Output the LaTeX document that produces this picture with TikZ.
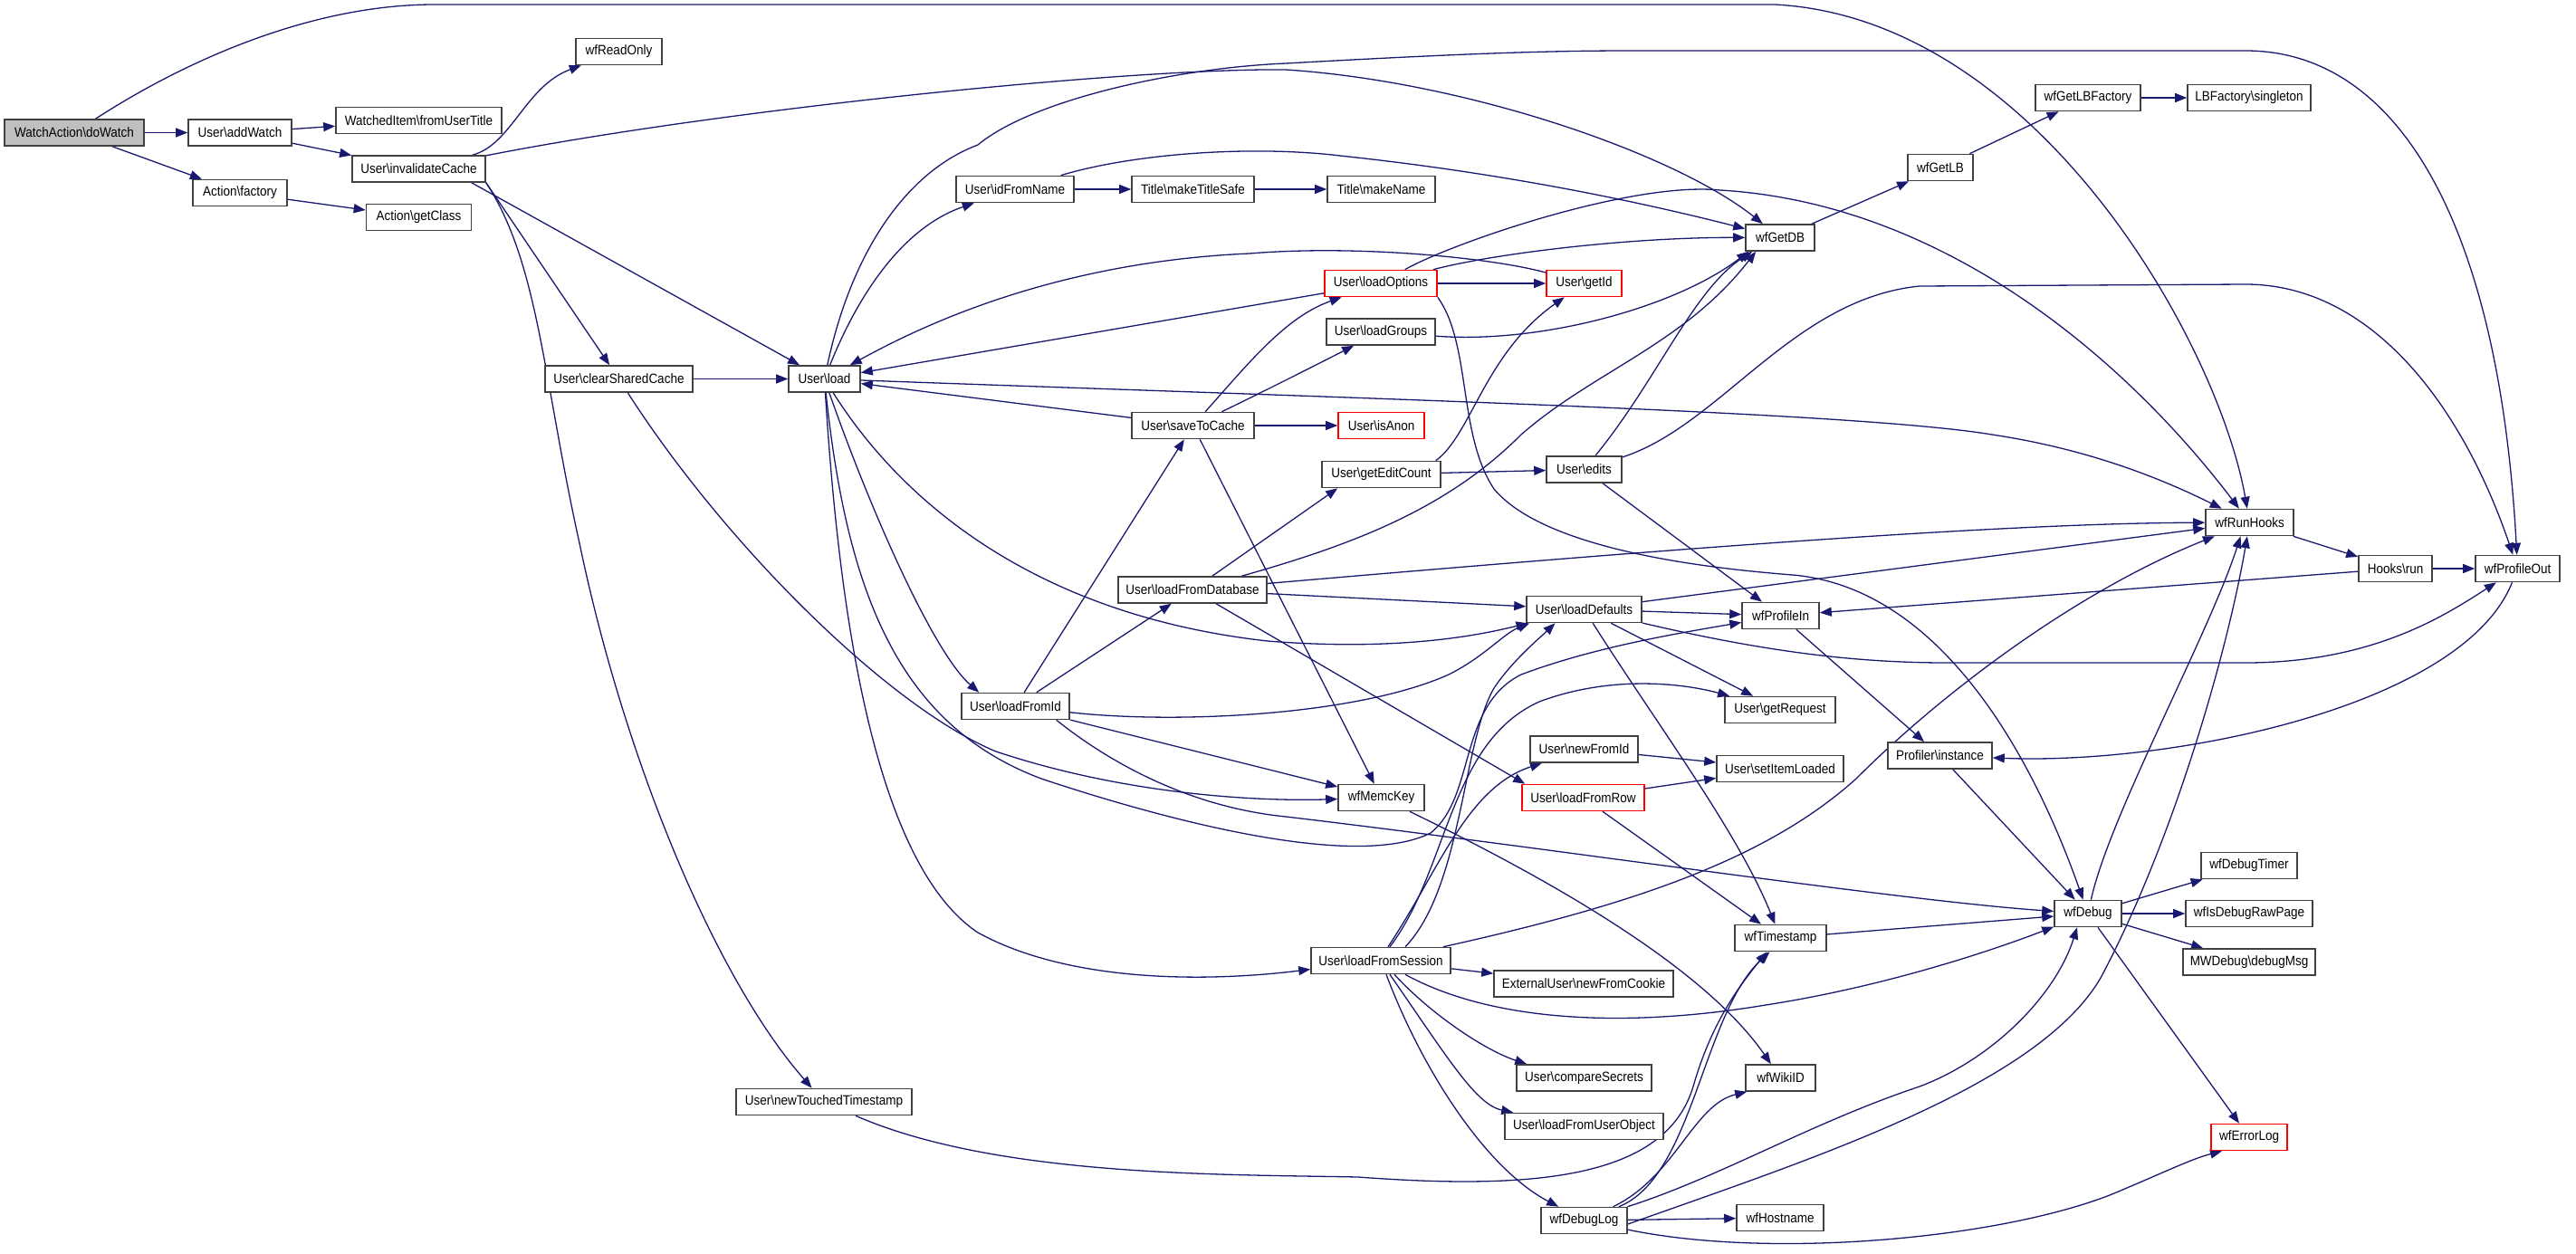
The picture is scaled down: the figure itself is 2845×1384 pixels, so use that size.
\documentclass[tikz,border=0pt]{standalone}
\usepackage{fontspec}
\setmainfont{Liberation Sans}[FakeStretch=0.9]
\usetikzlibrary{arrows.meta,backgrounds}
\definecolor{ecol}{HTML}{191970}
\definecolor{bcol}{HTML}{404040}
\definecolor{rcol}{HTML}{FF0000}
\definecolor{gcol}{HTML}{BFBFBF}
\newcommand{\bsl}{\textbackslash}
\begin{document}
\begin{tikzpicture}[x=1pt,y=-1pt,
  fn/.style={draw=bcol,line width=1.6pt,fill=white,minimum height=29pt,inner sep=0pt,
    font=\fontsize{15pt}{18pt}\selectfont},
  fnr/.style={fn,draw=rcol},
  conn/.style={draw=ecol,line width=1.3pt,-{Triangle[length=13pt,width=10pt]}}]
\useasboundingbox (0,0) rectangle (2845,1384);
\node[fn,minimum width=154pt,fill=gcol] (dw) at (82,146.5) {WatchAction\bsl doWatch};
\node[fn,minimum width=114pt] (aw) at (265,146.5) {User\bsl addWatch};
\node[fn,minimum width=183pt] (wi) at (462.5,133) {WatchedItem\bsl fromUserTitle};
\node[fn,minimum width=147pt] (ic) at (462.5,186.5) {User\bsl invalidateCache};
\node[fn,minimum width=104pt] (af) at (265,213) {Action\bsl factory};
\node[fn,minimum width=116pt] (gc) at (462.5,240) {Action\bsl getClass};
\node[fn,minimum width=95pt] (ro) at (683.5,57) {wfReadOnly};
\node[fn,minimum width=163pt] (csc) at (683.5,418.5) {User\bsl clearSharedCache};
\node[fn,minimum width=79pt] (ld) at (910.5,418.5) {User\bsl load};
\node[fn,minimum width=194pt] (ntt) at (910,1217) {User\bsl newTouchedTimestamp};
\node[fn,minimum width=130pt] (ifn) at (1121,209) {User\bsl idFromName};
\node[fn,minimum width=119pt] (lfi) at (1121.5,780) {User\bsl loadFromId};
\node[fn,minimum width=135pt] (mts) at (1317.5,209) {Title\bsl makeTitleSafe};
\node[fn,minimum width=135pt] (stc) at (1317.5,470) {User\bsl saveToCache};
\node[fn,minimum width=164pt] (lfdb) at (1317,651.5) {User\bsl loadFromDatabase};
\node[fn,minimum width=119pt] (mkn) at (1525.5,209) {Title\bsl makeName};
\node[fnr,minimum width=124pt] (lo) at (1525,313) {User\bsl loadOptions};
\node[fn,minimum width=120pt] (lg) at (1525,366.5) {User\bsl loadGroups};
\node[fnr,minimum width=95pt] (ia) at (1525.5,470) {User\bsl isAnon};
\node[fn,minimum width=131pt] (gec) at (1525.5,524) {User\bsl getEditCount};
\node[fn,minimum width=95pt] (mk) at (1525.5,881) {wfMemcKey};
\node[fn,minimum width=154pt] (lfs) at (1525,1061) {User\bsl loadFromSession};
\node[fnr,minimum width=83pt] (gid) at (1749.5,313) {User\bsl getId};
\node[fn,minimum width=83pt] (ed) at (1749.5,518.5) {User\bsl edits};
\node[fn,minimum width=127pt] (ldf) at (1749.5,673) {User\bsl loadDefaults};
\node[fn,minimum width=119pt] (nfi) at (1749.5,827.5) {User\bsl newFromId};
\node[fnr,minimum width=135pt] (lfr) at (1748.5,881) {User\bsl loadFromRow};
\node[fn,minimum width=198pt] (nfc) at (1749,1086.5) {ExternalUser\bsl newFromCookie};
\node[fn,minimum width=149pt] (cs) at (1749.5,1190.5) {User\bsl compareSecrets};
\node[fn,minimum width=175pt] (lfuo) at (1749.5,1244) {User\bsl loadFromUserObject};
\node[fn,minimum width=95pt] (dl) at (1749.5,1348) {wfDebugLog};
\node[fn,minimum width=76pt] (db) at (1966,262.5) {wfGetDB};
\node[fn,minimum width=85pt] (pin) at (1966.5,680) {wfProfileIn};
\node[fn,minimum width=122pt] (grq) at (1966,784) {User\bsl getRequest};
\node[fn,minimum width=140pt] (sil) at (1966,849) {User\bsl setItemLoaded};
\node[fn,minimum width=101pt] (ts) at (1966.5,1036) {wfTimestamp};
\node[fn,minimum width=77pt] (wid) at (1966.5,1190.5) {wfWikiID};
\node[fn,minimum width=96pt] (hn) at (1966,1345) {wfHostname};
\node[fn,minimum width=72pt] (lb) at (2143,185) {wfGetLB};
\node[fn,minimum width=115pt] (pi) at (2142.5,834.5) {Profiler\bsl instance};
\node[fn,minimum width=74pt] (dbg) at (2306,1009) {wfDebug};
\node[fn,minimum width=116pt] (lbf) at (2306,108) {wfGetLBFactory};
\node[fn,minimum width=136pt] (lbs) at (2484,108) {LBFactory\bsl singleton};
\node[fn,minimum width=97pt] (rh) at (2484.5,577) {wfRunHooks};
\node[fn,minimum width=106pt] (dt) at (2484,956) {wfDebugTimer};
\node[fn,minimum width=140pt] (drp) at (2484,1009) {wfIsDebugRawPage};
\node[fn,minimum width=146pt] (dm) at (2484,1062.5) {MWDebug\bsl debugMsg};
\node[fnr,minimum width=84pt] (el) at (2484,1256) {wfErrorLog};
\node[fn,minimum width=81pt] (hr) at (2645.5,628) {Hooks\bsl run};
\node[fn,minimum width=93pt] (pout) at (2780.5,628) {wfProfileOut};

\begin{pgfonlayer}{background}
% WatchAction\doWatch
\draw[conn] (dw) -- (aw);
\draw[conn] (dw) -- (af);
\draw[conn] (dw) .. controls (200,70) and (340,5) .. (480,5) -- (1960,5) .. controls (2250,20) and (2450,380) .. (rh);
\draw[conn] (aw) -- (wi);
\draw[conn] (aw) -- (ic);
\draw[conn] (af) -- (gc);
% invalidateCache
\draw[conn] (ic) .. controls (565,160) and (580,95) .. (ro);
\draw[conn] (ic) .. controls (800,120) and (1250,75) .. (1420,77) .. controls (1620,90) and (1850,170) .. (db);
\draw[conn] ([xshift=-16pt]ic.south east) -- (ld);
\draw[conn] (ic.south east) -- (csc);
\draw[conn] (ic.south east) .. controls (595,290) and (600,420) .. (640,600) .. controls (690,840) and (790,1080) .. (ntt);
% clearSharedCache
\draw[conn] (csc) -- (ld);
\draw[conn] (csc) .. controls (800,600) and (980,780) .. (1100,830) .. controls (1250,880) and (1400,885) .. (mk);
% load
\draw[conn] (ld) .. controls (950,320) and (1000,250) .. (ifn);
\draw[conn] (ld) .. controls (940,280) and (1000,190) .. (1080,160) .. controls (1140,110) and (1300,75) .. (1420,70) .. controls (1600,60) and (1700,56) .. (1800,56) -- (2480,56) .. controls (2650,56) and (2760,250) .. (pout);
\draw[conn] (ld) .. controls (1000,560) and (1150,680) .. (1400,708) .. controls (1550,720) and (1640,700) .. (ldf);
\draw[conn] (ld) .. controls (960,560) and (1030,720) .. ([xshift=20pt]lfi.north west);
\draw[conn] (ld) .. controls (925,650) and (960,950) .. (1080,1030) .. controls (1180,1085) and (1330,1085) .. (lfs);
\draw[conn] (ld) .. controls (1500,440) and (2050,455) .. (2200,480) .. controls (2300,495) and (2380,525) .. (rh);
\draw[conn] (ld) .. controls (935,650) and (990,800) .. (1150,860) .. controls (1300,910) and (1500,960) .. (1580,920) .. controls (1630,880) and (1610,780) .. (1680,745) .. controls (1760,715) and (1850,700) .. (pin);
% callbacks into load
\draw[conn] (gid) .. controls (1650,285) and (1500,270) .. (1380,280) .. controls (1150,290) and (1000,370) .. (ld);
\draw[conn] (lo) -- (ld);
\draw[conn] (stc) -- (ld);
% idFromName
\draw[conn] (ifn) -- (mts);
\draw[conn] (ifn) .. controls (1250,170) and (1380,160) .. (1480,172) .. controls (1650,190) and (1800,220) .. (db);
\draw[conn] (mts) -- (mkn);
% loadOptions
\draw[conn] (lo) -- (gid);
\draw[conn] (lo) .. controls (1650,280) and (1800,262) .. (db);
\draw[conn] (lo) .. controls (1600,270) and (1800,200) .. (1900,210) .. controls (2150,225) and (2350,400) .. (rh);
\draw[conn] (lo.south east) .. controls (1625,380) and (1610,480) .. (1650,540) .. controls (1700,600) and (1850,625) .. (1980,635) .. controls (2150,650) and (2250,850) .. (dbg);
\draw[conn] (lg) .. controls (1700,380) and (1850,340) .. ([xshift=4pt]db.south west);
% saveToCache
\draw[conn] (stc) .. controls (1380,400) and (1420,350) .. (lo);
\draw[conn] (stc) .. controls (1380,440) and (1440,410) .. (lg);
\draw[conn] (stc) -- (ia);
\draw[conn] (stc) -- (mk);
% getEditCount / edits
\draw[conn] (gec) -- (ed);
\draw[conn] ([xshift=-6pt]gec.north east) .. controls (1625,480) and (1640,390) .. (gid);
\draw[conn] (ed) .. controls (1830,420) and (1870,320) .. ([xshift=8pt]db.south west);
\draw[conn] (ed) .. controls (1900,470) and (1980,330) .. (2120,316) -- (2480,314) .. controls (2620,314) and (2720,450) .. (pout);
\draw[conn] (ed) -- (pin);
% loadFromId
\draw[conn] (lfi) -- (stc);
\draw[conn] (lfi) -- (lfdb);
\draw[conn] (lfi) .. controls (1300,800) and (1500,790) .. (1600,745) .. controls (1640,725) and (1660,700) .. ([xshift=4pt]ldf.south west);
\draw[conn] (lfi) -- (mk);
\draw[conn] ([xshift=-15pt]lfi.south east) .. controls (1210,830) and (1300,890) .. (1420,902) .. controls (1700,935) and (2100,995) .. (dbg);
% loadFromDatabase
\draw[conn] (lfdb) -- ([xshift=18pt]gec.south west);
\draw[conn] (lfdb) .. controls (1500,600) and (1600,560) .. (1680,480) .. controls (1760,410) and (1860,380) .. ([xshift=12pt]db.south west);
\draw[conn] (lfdb) .. controls (1800,610) and (2200,578) .. (rh);
\draw[conn] (lfdb) -- (ldf);
\draw[conn] (lfdb) -- ([xshift=4pt]lfr.north west);
% loadDefaults
\draw[conn] (ldf) -- (pin);
\draw[conn] (ldf) -- (rh);
\draw[conn] (ldf) .. controls (1950,720) and (2050,732) .. (2150,732) -- (2480,732) .. controls (2620,732) and (2700,680) .. (pout);
\draw[conn] (ldf) -- (grq);
\draw[conn] (ldf) .. controls (1830,800) and (1920,920) .. (ts);
% loadFromRow / newFromId / wfMemcKey
\draw[conn] (lfr) -- (sil);
\draw[conn] (lfr) -- (ts);
\draw[conn] (nfi) -- (sil);
\draw[conn] (mk) .. controls (1750,990) and (1890,1080) .. (wid);
% loadFromSession
\draw[conn] (lfs) -- (nfc);
\draw[conn] ([xshift=27pt]lfs.north) .. controls (1615,980) and (1615,820) .. (1650,760) .. controls (1670,730) and (1700,705) .. ([xshift=-32pt]ldf.south);
\draw[conn] ([xshift=10pt]lfs.north) .. controls (1600,960) and (1600,820) .. (1700,775) .. controls (1780,745) and (1860,755) .. (grq);
\draw[conn] ([xshift=8pt]lfs.north) .. controls (1590,960) and (1620,870) .. (nfi);
\draw[conn] (lfs) .. controls (1800,1000) and (1950,950) .. (2050,860) .. controls (2150,760) and (2300,650) .. (rh);
\draw[conn] ([xshift=27pt]lfs.south) .. controls (1650,1130) and (1800,1135) .. (1950,1110) .. controls (2080,1090) and (2200,1050) .. (dbg);
\draw[conn] ([xshift=15pt]lfs.south) .. controls (1580,1120) and (1640,1160) .. ([xshift=12pt]cs.north west);
\draw[conn] ([xshift=10pt]lfs.south) .. controls (1600,1170) and (1630,1220) .. ([xshift=10pt]lfuo.north west);
\draw[conn] ([xshift=6pt]lfs.south) .. controls (1570,1180) and (1640,1290) .. ([xshift=20pt]dl.north west);
% newTouchedTimestamp
\draw[conn] (ntt) .. controls (1100,1300) and (1350,1297) .. (1500,1300) .. controls (1700,1315) and (1840,1300) .. (1870,1200) .. controls (1890,1130) and (1920,1090) .. ([xshift=-15pt]ts.south);
% wfDebugLog
\draw[conn] (dl) .. controls (1870,1300) and (1880,1120) .. ([xshift=-12pt]ts.south);
\draw[conn] (dl) .. controls (1850,1300) and (1870,1220) .. ([xshift=2pt]wid.south west);
\draw[conn] (dl) -- (hn);
\draw[conn] (dl) .. controls (1900,1300) and (2000,1240) .. (2120,1200) .. controls (2200,1170) and (2270,1100) .. ([xshift=-12pt]dbg.south);
\draw[conn] ([yshift=-4pt]dl.east) .. controls (2000,1280) and (2250,1200) .. (2320,1080) .. controls (2400,930) and (2460,720) .. (rh);
\draw[conn] (dl) .. controls (1950,1390) and (2200,1370) .. (2330,1320) .. controls (2390,1295) and (2420,1280) .. ([xshift=-30pt]el.south);
% wfDebug
\draw[conn] (dbg) -- (dt);
\draw[conn] (dbg) -- (drp);
\draw[conn] (dbg) -- (dm);
\draw[conn] (dbg) -- (el);
\draw[conn] (dbg) .. controls (2330,900) and (2440,700) .. ([xshift=-10pt]rh.south);
\draw[conn] (ts) -- (dbg);
% profiling
\draw[conn] (pi) -- (dbg);
\draw[conn] (pin) -- (pi);
\draw[conn] (pout) .. controls (2720,780) and (2400,845) .. (pi);
\draw[conn] (hr) -- (pin);
\draw[conn] (hr) -- (pout);
\draw[conn] (rh) -- (hr);
% load balancer
\draw[conn] (db) -- (lb);
\draw[conn] (lb) -- (lbf);
\draw[conn] (lbf) -- (lbs);
\end{pgfonlayer}
\end{tikzpicture}
\end{document}
